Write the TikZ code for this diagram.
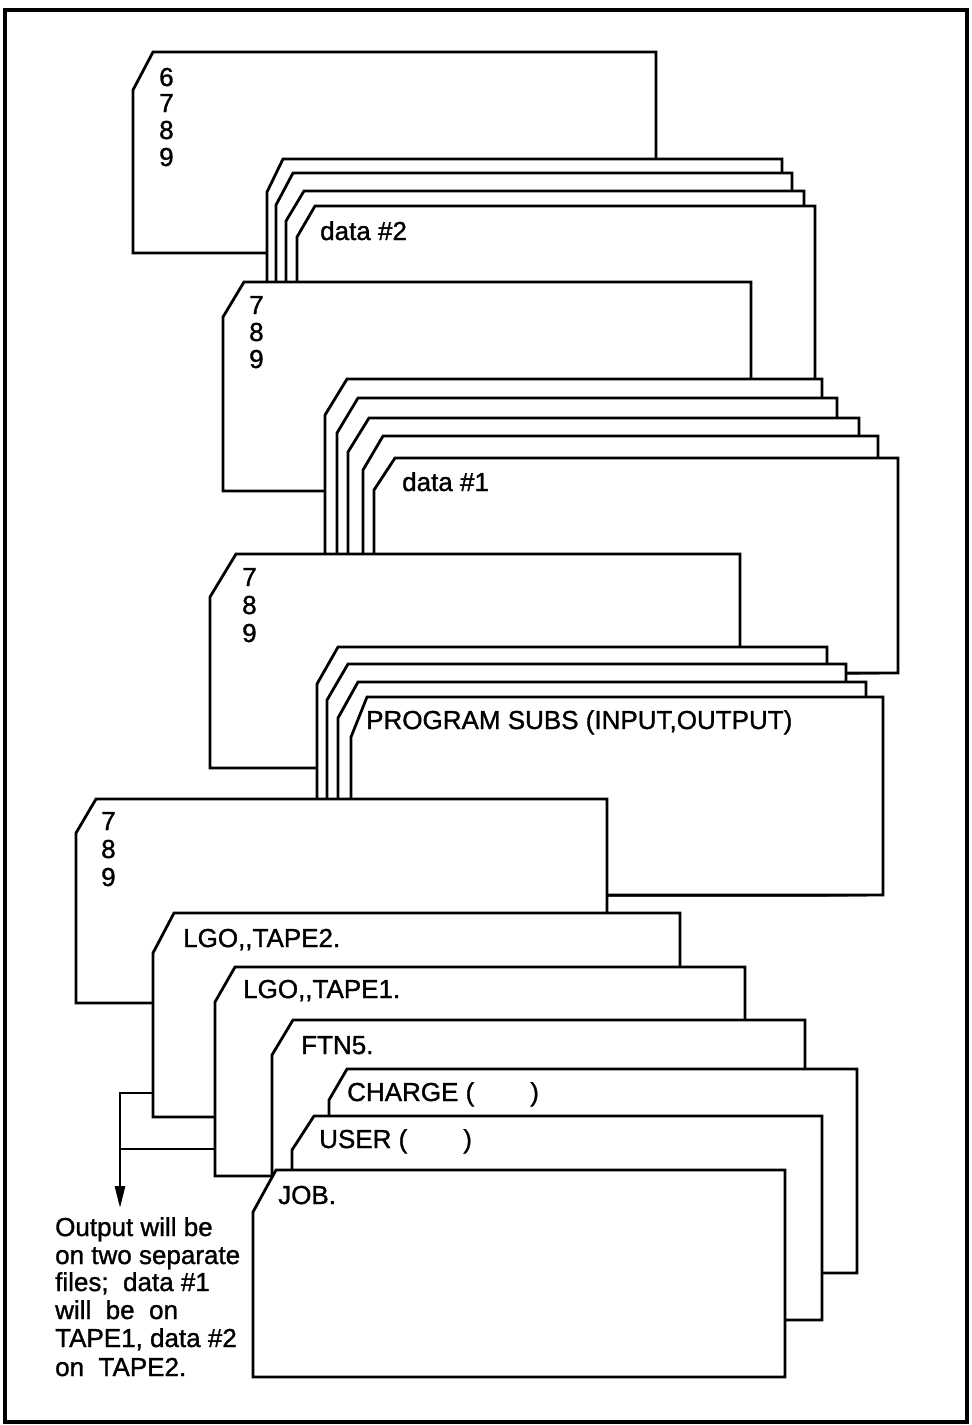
\documentclass[tikz,border=0pt]{standalone}
\usepackage{fontspec}
\setmainfont[FakeBold=1.2]{Liberation Sans}
\usetikzlibrary{arrows.meta}
\tikzset{
  card/.style={draw=black, fill=white, line width=2.8pt, line join=miter},
  frame/.style={draw=black, line width=3.2pt},
  lbl/.style={anchor=base west, inner sep=0pt, font=\fontsize{26}{28}\selectfont},
  bracket/.style={draw=black, line width=2.6pt},
}
\newcommand\deckcard[6]{\path[card] (#5,#2) -- (#3,#2) -- (#3,#4) -- (#1,#4) -- (#1,#6) -- cycle;}
\begin{document}
\begin{tikzpicture}[x=1pt,y=-1pt]
\useasboundingbox (0,0) rectangle (972,1425);
\path[frame] (5,10) rectangle (967,1422);
% card A
\deckcard{133}{52}{656}{253}{153}{90}
\node[lbl] (a6) at (159,86) {6};
\node[lbl] (a7) at (159,112) {7};
\node[lbl] (a8) at (159,139) {8};
\node[lbl] (a9) at (159,166) {9};
% data #2 group
\deckcard{267}{159}{782}{400}{283}{192}
\deckcard{276}{173}{792}{400}{293}{205}
\deckcard{286}{191}{804}{400}{304}{221}
\deckcard{297}{206}{815}{400}{315}{237}
\node[lbl] (d2) at (320,240) {data \#2};
% card C
\deckcard{223}{282}{751}{491}{244}{317}
\node[lbl] (c7) at (249,314) {7};
\node[lbl] (c8) at (249,341) {8};
\node[lbl] (c9) at (249,368) {9};
% data #1 group
\deckcard{325}{379}{822}{673}{347}{415}
\deckcard{337}{398}{837}{673}{358}{433}
\deckcard{348}{418}{859}{673}{369}{452}
\deckcard{363}{436}{878}{673}{383}{470}
\deckcard{374}{458}{898}{673}{395}{490}
\node[lbl] (d1) at (402,491) {data \#1};
% card E
\deckcard{210}{554}{740}{768}{236}{597}
\node[lbl] (e7) at (242,586) {7};
\node[lbl] (e8) at (242,614) {8};
\node[lbl] (e9) at (242,642) {9};
% program group
\deckcard{317}{647}{827}{895}{338}{684}
\deckcard{327}{664}{846}{895}{348}{700}
\deckcard{338}{682}{866}{895}{358}{718}
\deckcard{351}{697}{883}{895}{367}{737}
\node[lbl] (prog) at (366,729) {PROGRAM SUBS (INPUT,OUTPUT)};
% card G
\deckcard{76}{799}{607}{1003}{96}{833}
\node[lbl] (g7) at (101,830) {7};
\node[lbl] (g8) at (101,858) {8};
\node[lbl] (g9) at (101,886) {9};
% control cards
\deckcard{153}{913}{680}{1117}{174}{953}
\node[lbl] (t2) at (183,947) {LGO,{},TAPE2.};
\deckcard{215}{967}{745}{1176}{235}{1002}
\node[lbl] (t1) at (243,998) {LGO,{},TAPE1.};
\deckcard{272}{1020}{805}{1176}{293}{1055}
\node[lbl] (ftn) at (301,1054) {FTN5.};
\deckcard{329}{1069}{857}{1273}{347}{1100}
\node[lbl] (chg) at (347,1101) {CHARGE (\hspace{56pt})};
\deckcard{292}{1116}{822}{1320}{314}{1150}
\node[lbl] (usr) at (319,1148) {USER (\hspace{56pt})};
\deckcard{253}{1170}{785}{1377}{276}{1212}
\node[lbl] (job) at (278,1204) {JOB.};
% bracket and arrow
\coordinate (hL) at (153,1093);
\coordinate (iL) at (215,1149);
\coordinate (bk1) at (120,1093);
\coordinate (bk2) at (120,1149);
\coordinate (tip) at (120,1208);
\draw[bracket] (hL) -- (bk1) -- (bk2);
\draw[bracket, -{Triangle[length=22pt,width=10pt]}] (iL) -- (bk2) -- (tip);
% note
\node[lbl] (n1) at (55,1236) {Output will be};
\node[lbl] (n2) at (55,1264) {on two separate};
\node[lbl] (n3) at (55,1291) {files;\ \ data \#1};
\node[lbl] (n4) at (55,1319) {will\ \ be\ \ on};
\node[lbl] (n5) at (55,1347) {TAPE1, data \#2};
\node[lbl] (n6) at (55,1376) {on\ \ TAPE2.};
\end{tikzpicture}
\end{document}
